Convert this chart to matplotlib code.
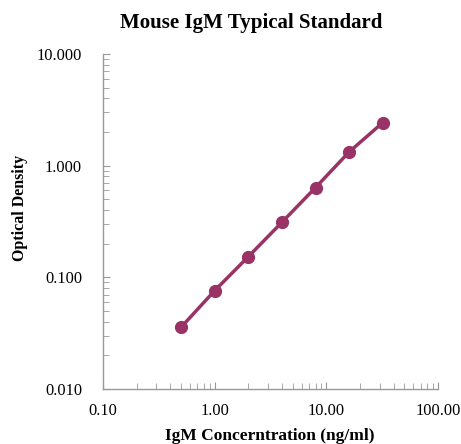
import matplotlib
matplotlib.use("Agg")
import matplotlib.pyplot as plt
from matplotlib.ticker import LogLocator, FixedLocator, NullFormatter

conc = [0.5, 1, 2, 4, 8, 16, 32]
od = [0.0357, 0.076, 0.153, 0.311, 0.636, 1.327, 2.43]
xticks = [0.1, 1, 10, 100]
xlabels = ["0.10", "1.00", "10.00", "100.00"]
yticks = [0.01, 0.1, 1, 10]
ylabels = ["0.010", "0.100", "1.000", "10.000"]

plt.rcParams['font.family'] = ['Liberation Serif', 'DejaVu Serif']
fig = plt.figure(figsize=(4.61, 4.44), dpi=100)
ax = fig.add_axes([103/461, 1-389/444, (438-103)/461, (389-54)/444])
color = '#993366'
ax.plot(conc, od, '-', color=color, lw=2.5, marker='o', ms=8.5, mfc=color, mec=color)
ax.set_xscale('log')
ax.set_yscale('log')
ax.set_xlim(0.1, 100)
ax.set_ylim(0.01, 10)
ax.xaxis.set_major_locator(FixedLocator(xticks))
ax.set_xticklabels(xlabels)
ax.yaxis.set_major_locator(FixedLocator(yticks))
ax.set_yticklabels(ylabels)
ax.xaxis.set_minor_locator(LogLocator(base=10, subs=range(2, 10)))
ax.yaxis.set_minor_locator(LogLocator(base=10, subs=range(2, 10)))
ax.xaxis.set_minor_formatter(NullFormatter())
ax.yaxis.set_minor_formatter(NullFormatter())
for s in ['top', 'right']:
    ax.spines[s].set_visible(False)
for s in ['left', 'bottom']:
    ax.spines[s].set_color('#999999')
    ax.spines[s].set_linewidth(1.0)
ax.tick_params(which='major', length=5, direction='in', color='#999999', labelsize=11.8)
ax.tick_params(which='minor', length=4, direction='in', color='#999999')
ax.tick_params(axis='y', which='major', pad=15)
ax.tick_params(axis='x', which='major', pad=10)

fig.text(251/461, 1-23/444, 'Mouse IgM Typical Standard', ha='center', va='center',
         fontsize=15, fontweight='bold')
fig.text(270/461, 1-436/444, 'IgM Concerntration (ng/ml)', ha='center', va='center',
         fontsize=12.5, fontweight='bold')
fig.text(20/461, 1-208/444, 'Optical Density', ha='center', va='center', rotation=90,
         fontsize=11.5, fontweight='bold')
fig.savefig('out.png', dpi=100)
